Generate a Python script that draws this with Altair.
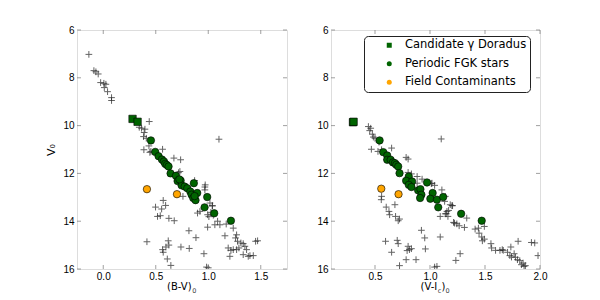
import altair as alt
import pandas as pd

FONT = "DejaVu Sans"

# ---------------- shared axis values ----------------
V_DOMAIN = [6, 16]
V_TICKS = [6, 8, 10, 12, 14, 16]
BV_DOMAIN = [-0.25, 1.75]
BV_TICKS = [0.0, 0.5, 1.0, 1.5]
VI_DOMAIN = [0.1, 2.0]
VI_TICKS = [0.5, 1.0, 1.5, 2.0]

KINDS = ["Candidate γ Doradus", "Periodic FGK stars", "Field Contaminants"]
KIND_COLORS = ["#006400", "#006400", "#FFA500"]
KIND_SHAPES = ["square", "circle", "circle"]

# ---------------- left panel: (B-V)0 ----------------
bv_cross_x = [-0.137, -0.089, -0.070, -0.048, -0.025, 0.006, 0.025, 0.010, 0.041, 0.079, 0.079,
              0.438, 0.343, 0.365, 0.397, 0.390, 0.384, 0.410, 0.435, 0.387, 0.444, 0.454, 0.565,
              0.673, 0.737, 0.730, 0.717, 1.102, 0.971, 0.870, 0.968, 0.968, 0.759,
              0.498, 0.556, 0.594, 0.571, 0.517, 0.543, 0.625, 0.676, 0.416, 0.565, 0.571, 0.597,
              0.625, 0.619, 0.610, 0.644, 0.740, 0.819, 0.816, 0.883, 0.959, 0.984, 0.994,
              0.921, 0.994, 1.038, 1.025, 1.063, 1.016, 1.040, 0.898, 1.006, 1.048, 1.089, 1.111,
              1.171, 1.159, 1.238, 1.270, 1.260, 1.279, 1.190, 1.216, 1.238, 1.270, 1.292, 1.311,
              1.333, 1.349, 1.365, 1.333, 1.381, 1.397, 1.451, 1.470, 1.206, 1.429, 1.000]
bv_cross_y = [7.02, 7.70, 7.75, 7.84, 8.20, 8.23, 8.27, 8.41, 8.58, 8.83, 8.95,
              9.83, 10.07, 10.11, 10.15, 10.29, 10.46, 10.53, 10.85, 11.01, 11.12, 11.08, 10.99,
              11.36, 11.43, 11.92, 11.97, 10.57, 12.48, 12.30, 12.57, 12.69, 12.96,
              13.41, 13.49, 13.34, 13.13, 13.80, 13.77, 13.88, 13.98, 14.86, 15.19, 15.30, 15.08,
              15.00, 14.82, 15.58, 15.85, 15.08, 15.14, 14.40, 14.69, 15.36, 15.92, 14.25,
              13.59, 13.73, 13.35, 13.63, 14.15, 13.24, 13.36, 13.66, 13.81, 13.75, 14.00, 14.15,
              14.12, 14.61, 14.29, 14.57, 14.70, 14.84, 15.12, 15.22, 15.19, 15.19, 15.12, 14.91,
              14.94, 15.05, 15.19, 15.40, 15.47, 15.44, 14.84, 14.82, 15.47, 15.44, 15.95]

bv_gd_x = [0.279, 0.327]
bv_gd_y = [9.72, 9.84]

bv_fgk_x = [0.454, 0.495, 0.527, 0.559, 0.578, 0.590, 0.606, 0.622, 0.641, 0.692, 0.708, 0.737,
            0.746, 0.775, 0.800, 0.829, 0.841, 0.863, 0.895, 0.857, 0.879, 0.990, 0.965, 1.057,
            1.216, 0.870, 0.725]
bv_fgk_y = [10.62, 11.10, 11.28, 11.42, 11.50, 11.60, 11.65, 11.71, 12.00, 12.10, 12.32, 12.30,
            12.50, 12.55, 12.62, 12.76, 12.89, 12.41, 12.82, 13.03, 13.12, 12.99, 13.42, 13.67,
            13.98, 12.95, 12.25]

bv_field_x = [0.416, 0.702]
bv_field_y = [12.66, 12.87]

# ---------------- right panel: (V-Ic)0 ----------------
vi_cross_x = [0.440, 0.461, 0.452, 0.476, 0.485, 0.500, 0.536, 0.467, 0.560, 0.651, 0.527, 0.605,
              0.783, 0.801, 0.801, 1.102, 0.831, 0.883, 0.928, 0.883, 1.018, 1.012, 1.042, 1.108,
              1.139, 1.184, 1.133, 1.148, 1.163, 1.214, 1.244, 1.313, 1.205, 1.154, 1.093, 1.334,
              1.440, 1.494,
              0.560, 0.557, 0.602, 0.627, 0.633, 0.681, 0.687, 0.723, 0.711, 0.596, 0.651, 0.702,
              0.711, 0.801, 0.813, 0.783, 0.723, 0.922, 0.952, 0.958, 1.042, 1.063, 1.235, 1.274,
              1.093, 0.873, 0.831, 0.792,
              1.199, 1.169, 1.139, 1.223, 1.265, 1.410, 1.446, 1.470, 1.476, 1.494, 1.554, 1.560,
              1.596, 1.636, 1.657, 1.666, 1.705, 1.726, 1.741, 1.765, 1.777, 1.795, 1.816, 1.831,
              1.846, 1.855, 1.867, 1.801, 1.735, 1.922, 1.952, 1.982]
vi_cross_y = [10.04, 10.11, 10.21, 10.36, 10.48, 10.53, 10.69, 10.99, 11.01, 10.94, 11.08, 11.43,
              11.33, 11.40, 11.96, 10.56, 12.02, 12.13, 12.24, 12.41, 12.41, 12.43, 12.50, 12.69,
              12.96, 13.31, 13.17, 13.69, 13.80, 14.05, 14.11, 14.26, 13.35, 13.59, 13.80, 13.87,
              14.29, 14.22,
              12.96, 13.10, 13.41, 13.59, 13.73, 13.31, 13.80, 13.91, 13.98, 14.84, 15.30, 14.80,
              14.94, 15.05, 15.19, 15.61, 15.86, 14.38, 14.70, 15.16, 15.92, 15.89, 15.64, 15.36,
              14.66, 15.61, 15.15, 15.23,
              13.35, 13.55, 13.69, 14.08, 14.19, 14.33, 14.50, 14.66, 14.82, 14.75, 14.94, 15.12,
              15.22, 15.22, 15.19, 15.22, 15.30, 15.44, 15.50, 15.36, 15.51, 15.61, 15.65, 15.82,
              15.75, 15.89, 15.86, 14.84, 15.08, 14.89, 14.91, 15.44]

vi_gd_x = [0.300, 0.305]
vi_gd_y = [9.86, 9.84]

vi_fgk_x = [0.542, 0.575, 0.611, 0.611, 0.642, 0.663, 0.681, 0.693, 0.711, 0.723, 0.807, 0.783,
            0.837, 0.807, 0.831, 0.892, 0.913, 0.922, 0.910, 0.973, 1.024, 1.003, 1.063, 1.120,
            1.075, 1.283, 1.470]
vi_fgk_y = [10.62, 11.11, 11.25, 11.43, 11.43, 11.54, 11.57, 11.64, 11.71, 11.99, 12.13, 12.31,
            12.34, 12.48, 12.57, 12.71, 12.66, 12.89, 13.03, 12.38, 12.82, 13.06, 13.10, 12.99,
            13.42, 13.69, 13.98]

vi_field_x = [0.557, 0.714]
vi_field_y = [12.64, 12.87]

PLUS = "M-1,0L1,0M0,-1L0,1"
PW, PH = 210, 239


def panel(cross_x, cross_y, gd_x, gd_y, fgk_x, fgk_y, fld_x, fld_y,
          xdom, xticks, title_pieces, ytitle, show_legend):
    xs = alt.Scale(domain=xdom, nice=False, zero=False)
    ys = alt.Scale(domain=V_DOMAIN, reverse=True, nice=False, zero=False)
    xax = alt.Axis(values=xticks, format=".1f", title=None, ticks=False, domain=False,
                   grid=False, labelFlush=False, labelOverlap=False, labelPadding=2)
    yax = alt.Axis(values=V_TICKS, format="d", title=ytitle, ticks=False, domain=False,
                   grid=False, labelFlush=False, labelOverlap=False, labelPadding=3,
                   titlePadding=6, titleFontWeight="normal", titleFont=FONT, titleFontSize=11)

    def X(f="x"):
        return alt.X(f"{f}:Q", scale=xs, axis=xax)

    def Y(f="y"):
        return alt.Y(f"{f}:Q", scale=ys, axis=yax)

    crosses = alt.Chart(pd.DataFrame({"x": cross_x, "y": cross_y})).mark_point(
        shape=PLUS, filled=False, stroke="#222222", strokeWidth=1, opacity=0.7,
        size=45, clip=True
    ).encode(x=X(), y=Y())

    stars_df = pd.DataFrame({
        "x": list(gd_x) + list(fgk_x) + list(fld_x),
        "y": list(gd_y) + list(fgk_y) + list(fld_y),
        "kind": [KINDS[0]] * len(gd_x) + [KINDS[1]] * len(fgk_x) + [KINDS[2]] * len(fld_x),
    })
    if show_legend:
        leg = alt.Legend(title=None, orient="none", legendX=33, legendY=6,
                         fillColor="white", strokeColor="#222222",
                         cornerRadius=4, padding=3.5, rowPadding=5.5, symbolOffset=16,
                         labelOffset=10, labelFontSize=11.5, labelFont=FONT,
                         labelColor="black", symbolSize=25, symbolStrokeColor="black",
                         symbolStrokeWidth=0.5, labelLimit=300)
    else:
        leg = None
    stars = alt.Chart(stars_df).mark_point(
        filled=True, stroke="black", strokeWidth=0.6, opacity=1, size=55, clip=True
    ).encode(
        x=X(), y=Y(),
        fill=alt.Fill("kind:N", scale=alt.Scale(domain=KINDS, range=KIND_COLORS), legend=leg),
        shape=alt.Shape("kind:N", scale=alt.Scale(domain=KINDS, range=KIND_SHAPES), legend=leg),
        order=alt.Order("kind:N", sort="descending"),
    )

    tcol = "#777777"
    xt_bot = alt.Chart(pd.DataFrame({"x": xticks, "y": [V_DOMAIN[1]] * len(xticks)})).mark_tick(
        orient="vertical", size=4, thickness=1, color=tcol, yOffset=-2).encode(x=X(), y=Y())
    xt_top = alt.Chart(pd.DataFrame({"x": xticks, "y": [V_DOMAIN[0]] * len(xticks)})).mark_tick(
        orient="vertical", size=4, thickness=1, color=tcol, yOffset=2).encode(x=X(), y=Y())
    yt_l = alt.Chart(pd.DataFrame({"x": [xdom[0]] * len(V_TICKS), "y": V_TICKS})).mark_tick(
        orient="horizontal", size=4, thickness=1, color=tcol, xOffset=2).encode(x=X(), y=Y())
    yt_r = alt.Chart(pd.DataFrame({"x": [xdom[1]] * len(V_TICKS), "y": V_TICKS})).mark_tick(
        orient="horizontal", size=4, thickness=1, color=tcol, xOffset=-2).encode(x=X(), y=Y())

    layers = [crosses, stars, xt_bot, xt_top, yt_l, yt_r]
    one = alt.Data(values=[{}])
    for txt, px, py, fs, col in title_pieces:
        layers.append(alt.Chart(one).mark_text(
            align="left", baseline="alphabetic", font=FONT, fontSize=fs, color=col
        ).encode(x=alt.value(px), y=alt.value(py), text=alt.value(txt)))

    return alt.layer(*layers).properties(width=PW, height=PH)


base_y = 260
left = panel(bv_cross_x, bv_cross_y, bv_gd_x, bv_gd_y, bv_fgk_x, bv_fgk_y, bv_field_x, bv_field_y,
             BV_DOMAIN, BV_TICKS,
             [("(B-V)", 90, base_y, 10, "black"), ("0", 115.2, base_y + 3, 6.5, "#444444")],
             "V₀", False)
right = panel(vi_cross_x, vi_cross_y, vi_gd_x, vi_gd_y, vi_fgk_x, vi_fgk_y, vi_field_x, vi_field_y,
              VI_DOMAIN, VI_TICKS,
              [("(V-I", 89.5, base_y, 10, "black"), ("c", 106.8, base_y + 3, 6.5, "#444444"),
               (")", 110.5, base_y, 10, "black"), ("0", 114.4, base_y + 3, 6.5, "#444444")],
              None, True).properties(width=209)

chart = alt.hconcat(left, right, spacing=44, bounds="flush").resolve_scale(
    fill="independent", shape="independent"
).resolve_legend(fill="independent", shape="independent").properties(
    padding={"left": 37, "top": 16, "right": 10, "bottom": 4}
).configure_view(
    stroke="#808080", strokeWidth=2
).configure_axis(
    labelFont=FONT, labelFontSize=10, labelColor="black",
    titleFont=FONT, titleFontSize=11, titleFontWeight="normal", titleColor="black"
).configure_legend(
    strokeWidth=1
).configure(background="white")

chart.save("out.html", embed_options={"renderer": "svg", "actions": False})
